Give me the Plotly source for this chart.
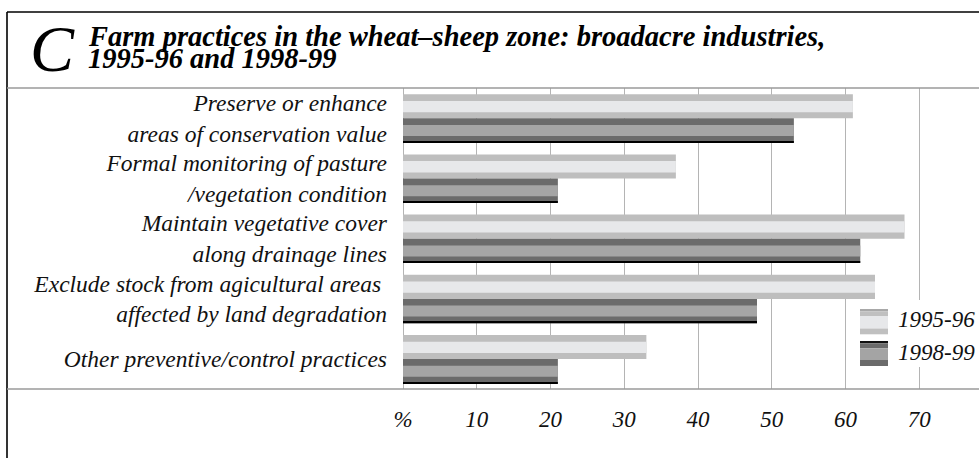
import plotly.graph_objects as go

# Share of farms (%) adopting each practice
categories = [
    "Preserve or enhance<br>areas of conservation value",
    "Formal monitoring of pasture<br>/vegetation condition",
    "Maintain vegetative cover<br>along drainage lines",
    "Exclude stock from agicultural areas\u00a0<br>affected by land degradation",
    "Other preventive/control practices",
]
values_1995_96 = [61, 37, 68, 64, 33]
values_1998_99 = [53, 21, 62, 48, 21]
series_names = ["1995-96", "1998-99"]
tick_values = [0, 10, 20, 30, 40, 50, 60, 70]
tick_labels = ["%", "10", "20", "30", "40", "50", "60", "70"]

W, H = 979, 458
L, R, T, B = 403, 0, 88, 69
PW, PH = W - L - R, H - T - B
SERIF = "Liberation Serif"


def px(x):
    """Pixel column -> paper x."""
    return (x - L) / PW


def py(y):
    """Pixel row -> paper y."""
    return (H - B - y) / PH


fig = go.Figure()

# Each bar is built from overlaid bands to give the shaded cylinder look.
band = 1 / 60.2  # one pixel in category units
bars_95 = [("#bebebe", -0.397, 0.400), ("#e7e8ea", -0.397 + 6.7 * band, 11.3 * band)]
bars_98 = [("#6b6b6b", 0.003, 0.405), ("#a5a5a5", 0.003 + 6.7 * band, 11.0 * band),
           ("#000000", 0.408 - 1.3 * band, 1.3 * band)]

for color, off, wid in bars_95:
    fig.add_trace(go.Bar(x=values_1995_96, y=categories, orientation="h",
                         offset=off, width=wid, marker=dict(color=color, line=dict(width=0)),
                         name=series_names[0], showlegend=False, hoverinfo="x+name"))
for color, off, wid in bars_98:
    fig.add_trace(go.Bar(x=values_1998_99, y=categories, orientation="h",
                         offset=off, width=wid, marker=dict(color=color, line=dict(width=0)),
                         name=series_names[1], showlegend=False, hoverinfo="x+name"))

shapes = []
# frame: black top and left edges, grey rules above and below the plot
shapes.append(dict(type="line", xref="paper", yref="paper", x0=px(7), x1=px(W + 5),
                   y0=py(12), y1=py(12), line=dict(color="#000", width=1.6)))
shapes.append(dict(type="line", xref="paper", yref="paper", x0=px(7), x1=px(7),
                   y0=py(12), y1=py(H + 5), line=dict(color="#000", width=1.6)))
for yy in (88, 389):
    shapes.append(dict(type="line", xref="paper", yref="paper", x0=px(7), x1=px(W + 5),
                       y0=py(yy), y1=py(yy), line=dict(color="#9a9a9a", width=1.4)))

# legend box with striped swatches
shapes.append(dict(type="rect", xref="paper", yref="paper", x0=px(853), x1=px(W + 2),
                   y0=py(300), y1=py(367), fillcolor="white", line=dict(width=0), layer="above"))
swatch_95 = [(309, 311.5, "#a8a8a8"), (311.5, 316, "#c0c0c0"), (316, 328.5, "#e7e8ea"),
             (328.5, 334.3, "#c0c0c0")]
swatch_98 = [(341, 343.3, "#111111"), (343.3, 348.3, "#6b6b6b"), (348.3, 360, "#a4a4a4"),
             (360, 366, "#6b6b6b")]
for y0, y1, c in swatch_95 + swatch_98:
    shapes.append(dict(type="rect", xref="paper", yref="paper", x0=px(860), x1=px(888),
                       y0=py(y1), y1=py(y0), fillcolor=c, line=dict(width=0), layer="above"))

annotations = [
    dict(text="C", x=px(28), y=py(48), xanchor="left", yanchor="middle",
         font=dict(family=SERIF, size=66, style="italic", color="#000")),
    dict(text="Farm practices in the wheat\u2013sheep zone: broadacre industries,",
         x=px(86), y=py(36.5), xanchor="left", yanchor="middle",
         font=dict(family=SERIF, size=28.5, style="italic", weight="bold", color="#000")),
    dict(text="1995-96 and 1998-99", x=px(86), y=py(58), xanchor="left", yanchor="middle",
         font=dict(family=SERIF, size=28.5, style="italic", weight="bold", color="#000")),
    dict(text=series_names[0], x=px(896), y=py(319), xanchor="left", yanchor="middle",
         font=dict(family=SERIF, size=23, style="italic", color="#111")),
    dict(text=series_names[1], x=px(896), y=py(352), xanchor="left", yanchor="middle",
         font=dict(family=SERIF, size=23, style="italic", color="#111")),
]
for a in annotations:
    a.update(xref="paper", yref="paper", showarrow=False)

fig.update_layout(
    width=W, height=H, margin=dict(l=L, r=R, t=T, b=B, pad=0),
    paper_bgcolor="white", plot_bgcolor="white",
    barmode="overlay", showlegend=False,
    shapes=shapes, annotations=annotations,
    xaxis=dict(range=[0, PW / 7.375], tickvals=tick_values, ticktext=tick_labels,
               showgrid=True, gridcolor="#b4b4b4", gridwidth=1.2,
               zeroline=True, zerolinecolor="#b4b4b4", zerolinewidth=1.2,
               showline=False, ticks="", ticklabelstandoff=14,
               tickfont=dict(family=SERIF, size=23, style="italic", color="#111")),
    yaxis=dict(autorange="reversed", showgrid=False, zeroline=False, showline=False,
               ticks="", ticklabelstandoff=15,
               tickfont=dict(family=SERIF, size=23.5, style="italic", color="#111")),
)

fig.write_html("out.html")
